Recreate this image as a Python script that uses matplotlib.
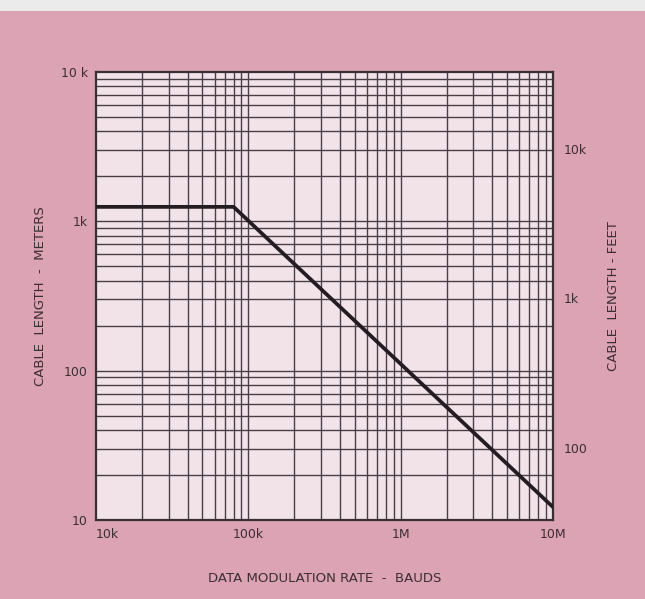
import matplotlib
matplotlib.use("Agg")
import matplotlib.pyplot as plt
from matplotlib.patches import Rectangle
import numpy as np

# Data
rate_bauds = [1e4, 8e4, 1e7]
length_m = [1250, 1250, 12.2]

x_ticks = [1e4, 1e5, 1e6, 1e7]
x_labels = ["10k", "100k", "1M", "10M"]
y_ticks = [10, 100, 1000, 10000]
y_labels = ["10", "100", "1k", "10 k"]
ft_ticks = [100, 1000, 10000]
ft_labels = ["100", "1k", "10k"]
M_PER_FT = 0.3048

bg = "#dca3b5"
plot_bg = "#f1e3e8"
ink = "#3a2f34"

fig = plt.figure(figsize=(6.45, 5.99), dpi=100)
fig.patch.set_facecolor(bg)
fig.patches.append(Rectangle((0, 1 - 11 / 599), 1, 11 / 599, transform=fig.transFigure,
                             facecolor="#ecebeb", edgecolor="none", zorder=0))

ax = fig.add_axes([96 / 645, 1 - 520 / 599, (553 - 96) / 645, (520 - 72) / 599])
ax.set_facecolor(plot_bg)
ax.set_xscale("log")
ax.set_yscale("log")
ax.set_xlim(1e4, 1e7)
ax.set_ylim(10, 1e4)

# grid: full log grid
for d in [1e4, 1e5, 1e6]:
    for k in range(1, 10):
        v = d * k
        if 1e4 < v < 1e7:
            ax.axvline(v, color="#4a3f45", lw=1.0, zorder=1)
for d in [10, 100, 1000]:
    for k in range(1, 10):
        v = d * k
        if 10 < v < 1e4:
            ax.axhline(v, color="#4a3f45", lw=1.0, zorder=1)

ax.plot(rate_bauds, length_m, color="#231c20", lw=2.7, solid_joinstyle="miter", zorder=3)

for s in ax.spines.values():
    s.set_color(ink)
    s.set_linewidth(1.6)

ax.set_xticks(x_ticks)
ax.set_xticklabels(x_labels)
ax.set_xticks([], minor=True)
ax.set_yticks(y_ticks)
ax.set_yticklabels(y_labels)
ax.set_yticks([], minor=True)
ax.tick_params(axis="both", which="both", length=0, colors=ink, labelsize=9)
ax.tick_params(axis="x", pad=6)
ax.tick_params(axis="y", pad=6)
for lbl in ax.get_xticklabels()[:1]:
    lbl.set_horizontalalignment("left")

ax.set_xlabel("DATA MODULATION RATE  -  BAUDS", fontsize=9.5, color=ink, labelpad=22)
ax.set_ylabel("CABLE  LENGTH  -  METERS", fontsize=9.5, color=ink, labelpad=10)

ax2 = ax.twinx()
ax2.set_yscale("log")
ax2.set_ylim(10 / M_PER_FT, 1e4 / M_PER_FT)
ax2.set_yticks(ft_ticks)
ax2.set_yticklabels(ft_labels)
ax2.set_yticks([], minor=True)
ax2.tick_params(axis="y", which="both", length=0, colors=ink, labelsize=9, pad=8)
for s in ax2.spines.values():
    s.set_visible(False)
ax2.set_ylabel("CABLE  LENGTH - FEET", fontsize=9.5, color=ink, labelpad=14)

fig.savefig("out.png", dpi=100, facecolor=fig.get_facecolor())
